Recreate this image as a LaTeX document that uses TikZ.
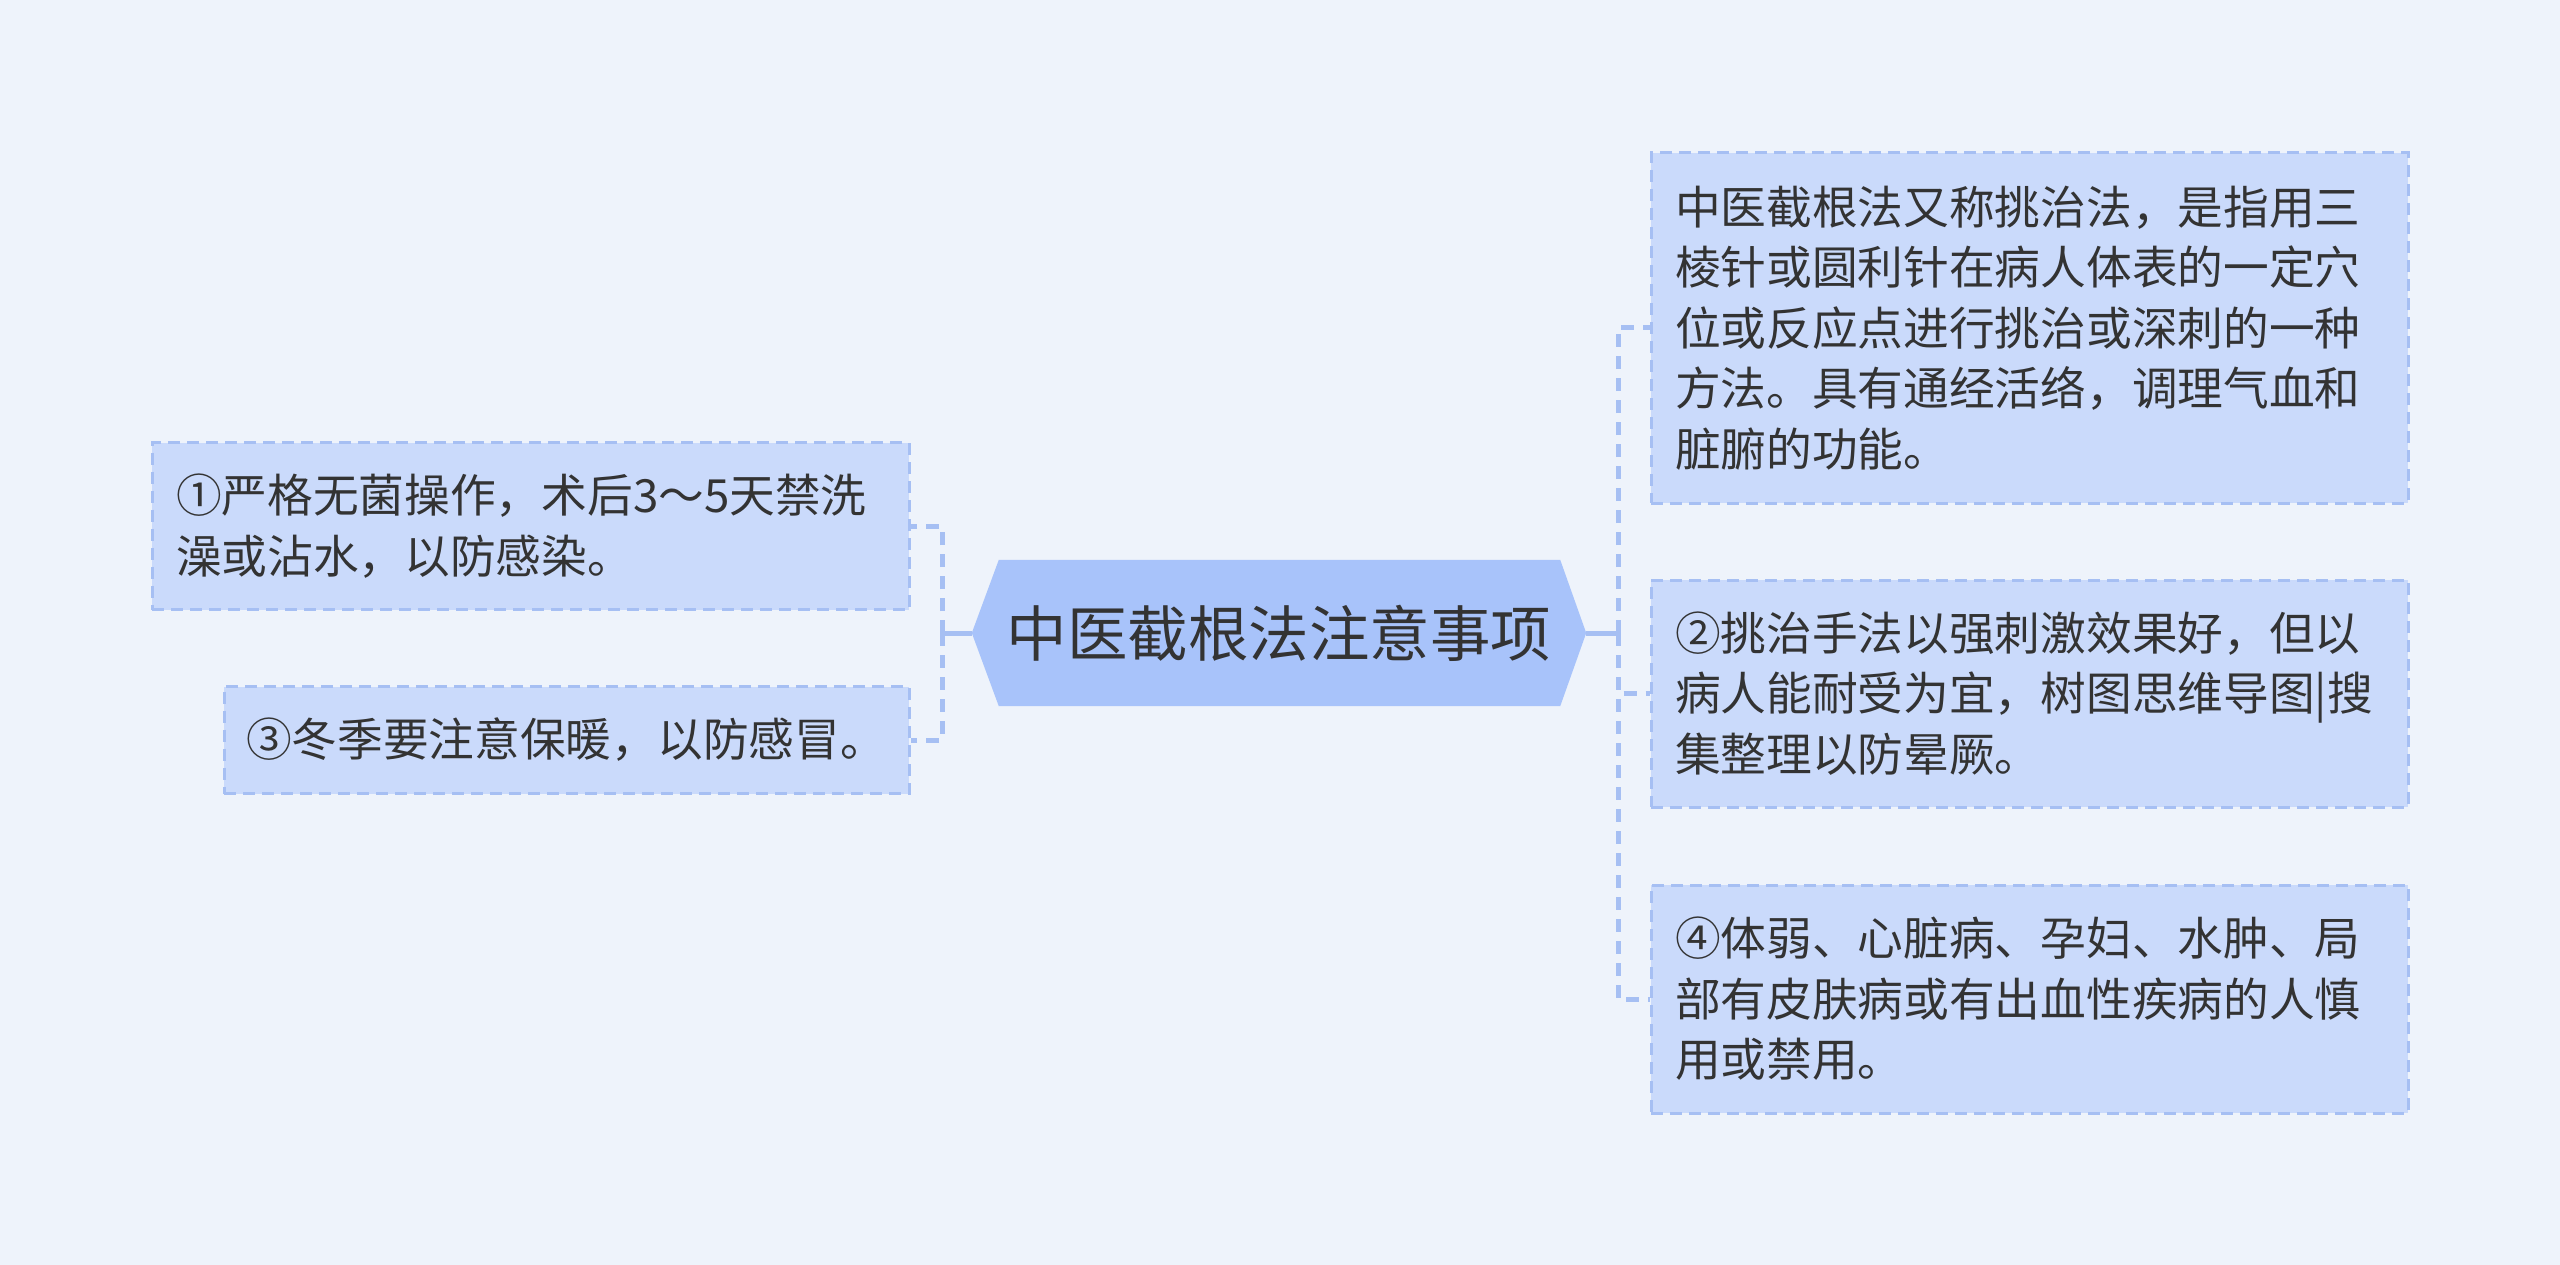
\documentclass[tikz,border=0pt]{standalone}
\usepackage{fontspec}
\setmainfont{Noto Sans CJK SC}
\usetikzlibrary{calc}
\definecolor{bgc}{HTML}{EEF3FB}
\definecolor{boxfill}{HTML}{CADAFB}
\definecolor{boxline}{HTML}{A6BFF3}
\definecolor{rootfill}{HTML}{A8C3FA}
\definecolor{connc}{HTML}{A6BFF3}
\definecolor{txt}{HTML}{333333}
\begin{document}
\begin{tikzpicture}[x=1pt,y=-1pt,
  box/.style={draw=boxline, fill=boxfill, dash pattern=on 12pt off 7pt, line width=3pt,
    rectangle, inner xsep=24pt, inner ysep=0pt, align=left, text=txt,
    font=\fontsize{45.7pt}{60.5pt}\selectfont},
  rootnode/.style={draw=none, inner sep=0pt, minimum width=614pt, minimum height=146pt,
    text=txt, font=\fontsize{60.5pt}{70pt}\selectfont},
  conn/.style={draw=connc, line width=5pt, dash pattern=on 13pt off 9pt},
  connsolid/.style={draw=connc, line width=5pt}]
\fill[bgc] (0,0) rectangle (2560,1265);
\useasboundingbox (0,0) rectangle (2560,1265);

% central node
\node[rootnode] (root) at (1279,633) {};
\fill[rootfill]
  (root.west) -- ($(root.north west)+(27,0)$) -- ($(root.north east)+(-26,0)$)
  -- (root.east) -- ($(root.south east)+(-26,0)$) -- ($(root.south west)+(27,0)$) -- cycle;
\node[rootnode] at (root.center) {中医截根法注意事项};

% left boxes
\node[box, text width=709pt, minimum width=757pt, minimum height=167pt] (l1) at (530.5,526)
  {①严格无菌操作，术后3～5天禁洗\\澡或沾水，以防感染。};
\node[box, text width=641pt, minimum width=685pt, minimum height=107pt, inner xsep=22pt] (l3) at (566.5,740)
  {③冬季要注意保暖，以防感冒。};

% right boxes
\node[box, text width=709pt, minimum width=757pt, minimum height=350pt] (r1) at (2029.5,328)
  {中医截根法又称挑治法，是指用三\\棱针或圆利针在病人体表的一定穴\\位或反应点进行挑治或深刺的一种\\方法。具有通经活络，调理气血和\\脏腑的功能。};
\node[box, text width=709pt, minimum width=757pt, minimum height=227pt] (r2) at (2029.5,693.5)
  {②挑治手法以强刺激效果好，但以\\病人能耐受为宜，树图思维导图|搜\\集整理以防晕厥。};
\node[box, text width=709pt, minimum width=757pt, minimum height=228pt] (r3) at (2029.5,999)
  {④体弱、心脏病、孕妇、水肿、局\\部有皮肤病或有出血性疾病的人慎\\用或禁用。};

% connectors
\coordinate (lj) at (942,633);
\coordinate (rj) at (1618,633);
\draw[connsolid] (root.west) -- (lj);
\draw[connsolid] (root.east) -- (rj);
\draw[conn] (lj) |- (l1.east);
\draw[conn] (lj) |- (l3.east);
\draw[conn] (rj) |- (r1.west);
\draw[conn] (rj) |- (r2.west);
\draw[conn] (rj) |- (r3.west);
\end{tikzpicture}
\end{document}
